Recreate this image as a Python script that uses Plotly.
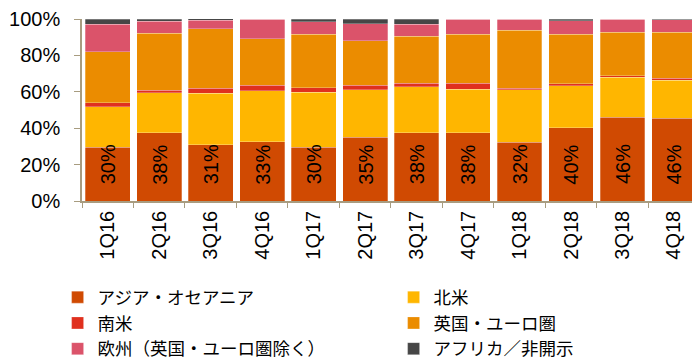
import plotly.graph_objects as go

quarters = ["1Q16", "2Q16", "3Q16", "4Q16", "1Q17", "2Q17", "3Q17", "4Q17", "1Q18", "2Q18", "3Q18", "4Q18"]

asia = [29.6, 37.6, 30.8, 32.6, 29.6, 35.1, 37.6, 37.6, 32.2, 40.3, 45.9, 45.6]
north_america = [22.3, 21.8, 28.3, 28.0, 30.1, 26.1, 25.2, 23.9, 29.0, 23.0, 22.0, 20.7]
south_america = [2.2, 1.5, 2.8, 2.9, 2.6, 2.3, 2.0, 3.1, 0.7, 1.1, 1.0, 1.1]
uk_euro = [27.9, 31.2, 32.7, 25.6, 29.3, 24.5, 25.6, 27.0, 31.9, 27.1, 23.7, 25.2]
europe_other = [15.2, 6.6, 4.7, 10.9, 7.0, 9.5, 6.6, 8.4, 6.2, 7.6, 7.4, 7.1]
africa_undisclosed = [2.8, 1.3, 0.9, 0.0, 1.4, 2.5, 3.0, 0.0, 0.0, 0.9, 0.0, 0.3]

series = [
    ("アジア・オセアニア", asia, "#D04A02"),
    ("北米", north_america, "#FFB600"),
    ("南米", south_america, "#E0301E"),
    ("英国・ユーロ圏", uk_euro, "#EB8C00"),
    ("欧州（英国・ユーロ圏除く）", europe_other, "#DB536A"),
    ("アフリカ／非開示", africa_undisclosed, "#464646"),
]

label_font = "Liberation Sans, Arial, sans-serif"
axis_color = "#A89C80"

fig = go.Figure()
for name, vals, color in series:
    fig.add_trace(go.Bar(
        x=quarters, y=vals, name=name,
        marker=dict(color=color, line=dict(width=0.6, color="rgba(255,255,255,0.45)")),
        hoverinfo="skip",
    ))

for q, v in zip(quarters, asia):
    fig.add_annotation(
        x=q, y=20, xref="x", yref="y",
        text=f"{round(v)}%", textangle=-90, showarrow=False,
        font=dict(family=label_font, size=20, color="black"),
    )

fig.update_layout(
    width=692, height=360,
    barmode="stack", bargap=0.13,
    margin=dict(l=82, r=0, t=19, b=159, autoexpand=False),
    plot_bgcolor="white", paper_bgcolor="white",
    showlegend=True,
    legend=dict(
        orientation="h", x=-0.04, xanchor="left", y=-0.43, yanchor="top",
        entrywidth=291, entrywidthmode="pixels",
        font=dict(family="Noto Sans CJK JP", size=17.5, color="black"),
        traceorder="normal", itemwidth=30, tracegroupgap=0,
    ),
    xaxis=dict(
        type="category", range=[-0.5, 11.35], tickangle=-90,
        showline=True, linecolor=axis_color, linewidth=1.5,
        ticks="outside", tickson="boundaries", ticklen=5, tickcolor=axis_color,
        tickfont=dict(family=label_font, size=20, color="black"),
        showgrid=False,
    ),
    yaxis=dict(
        range=[0, 100], dtick=20, ticksuffix="%",
        showline=True, linecolor=axis_color, linewidth=1.5,
        ticks="outside", ticklen=6, tickcolor=axis_color,
        tickfont=dict(family=label_font, size=20, color="black"),
        ticklabelstandoff=10,
        showgrid=False, zeroline=False,
    ),
)

fig.write_html("out.html")
